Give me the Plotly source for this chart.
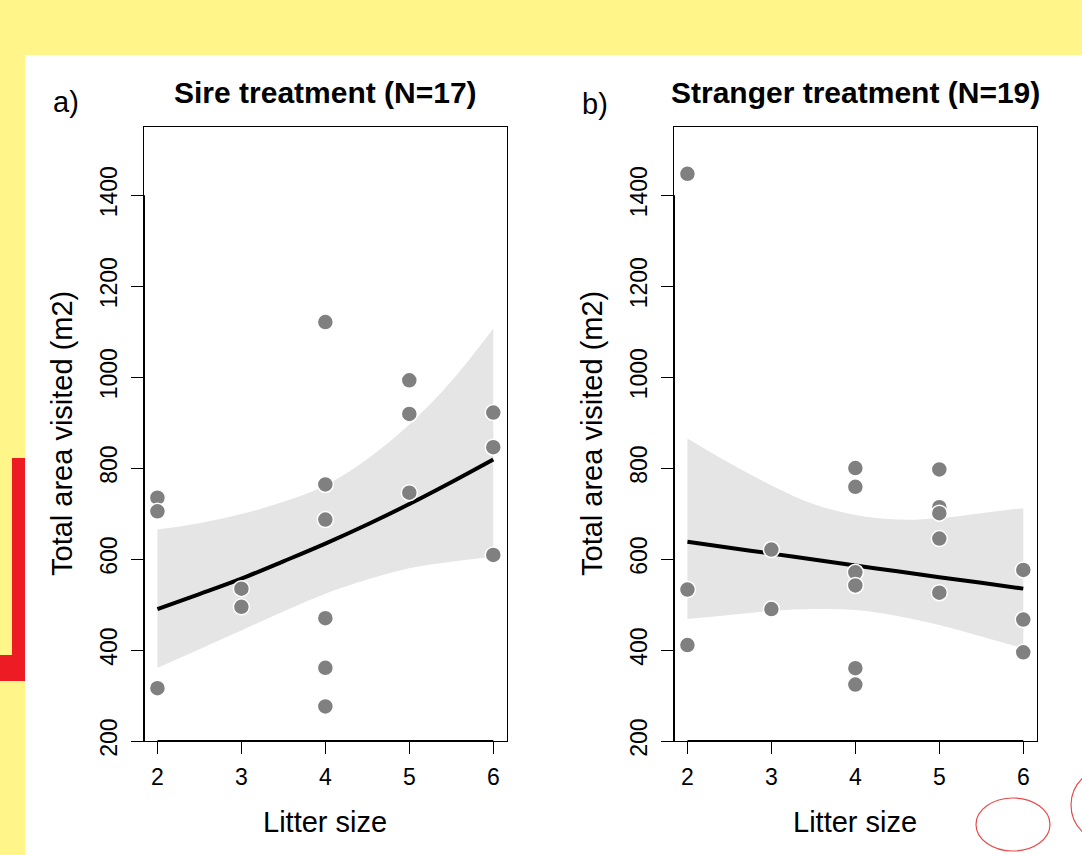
import plotly.graph_objects as go

# ---------------- data ----------------
litter_ticks = [2, 3, 4, 5, 6]
area_ticks = [200, 400, 600, 800, 1000, 1200, 1400]

sire_x = [2, 2, 2, 3, 3, 4, 4, 4, 4, 4, 4, 5, 5, 5, 6, 6, 6]
sire_y = [735, 705, 316, 535, 495, 1121, 764, 687, 470, 361, 276, 993, 919, 746, 922, 846, 609]

stranger_x = [2, 2, 2, 3, 3, 4, 4, 4, 4, 4, 4, 5, 5, 5, 5, 5, 6, 6, 6]
stranger_y = [1447, 533, 411, 621, 490, 800, 759, 571, 542, 360, 324, 797, 714, 701, 645, 526, 576, 467, 395]

fit_x = [2, 2.5, 3, 3.5, 4, 4.5, 5, 5.5, 6]
sire_fit = [490, 523, 557, 595, 634, 676, 721, 769, 819]
sire_upper = [665, 679, 699, 726, 762, 820, 896, 991, 1107]
sire_lower = [361, 402, 443, 485, 524, 555, 580, 594, 605]

stranger_fit = [638, 625, 612, 599, 586, 573, 560, 548, 535]
stranger_upper = [865, 811, 762, 721, 697, 687, 690, 701, 712]
stranger_lower = [468, 477, 486, 490, 488, 475, 455, 430, 404]

titles = ["Sire treatment (N=17)", "Stranger treatment (N=19)"]
panel_tags = ["a)", "b)"]
x_title = "Litter size"
y_title = "Total area visited (m2)"

# ---------------- layout helpers ----------------
W = 1082
H_REF = 855          # reference picture height (layout numbers below are in its pixels)
H = 871              # figure height (the capture squeezes the page height by ~855/871)
FONT = "Liberation Sans, Arial, Helvetica, sans-serif"


def px(x):
    return x / W


def py(y):
    return 1 - y / H_REF


panels = [
    dict(x0=144, x1=506.7, xs=sire_x, ys=sire_y, fit=sire_fit, up=sire_upper, lo=sire_lower),
    dict(x0=674, x1=1036.7, xs=stranger_x, ys=stranger_y, fit=stranger_fit, up=stranger_upper, lo=stranger_lower),
]
top, bottom = 127, 741

fig = go.Figure()

for i, p in enumerate(panels):
    xa = "x" if i == 0 else "x2"
    ya = "y" if i == 0 else "y2"
    # confidence band
    fig.add_trace(go.Scatter(x=fit_x, y=p["up"], mode="lines", line=dict(width=0, shape="spline"),
                             hoverinfo="skip", showlegend=False, xaxis=xa, yaxis=ya))
    fig.add_trace(go.Scatter(x=fit_x, y=p["lo"], mode="lines", line=dict(width=0, shape="spline"),
                             fill="tonexty", fillcolor="#E5E5E5",
                             hoverinfo="skip", showlegend=False, xaxis=xa, yaxis=ya))
    # fitted line
    fig.add_trace(go.Scatter(x=fit_x, y=p["fit"], mode="lines",
                             line=dict(color="black", width=4, shape="spline"),
                             showlegend=False, xaxis=xa, yaxis=ya))
    # observations
    fig.add_trace(go.Scatter(x=p["xs"], y=p["ys"], mode="markers",
                             marker=dict(size=16, color="#808080", line=dict(color="white", width=1.5)),
                             showlegend=False, xaxis=xa, yaxis=ya))

axis_common = dict(showgrid=False, zeroline=False, showline=True, mirror=True, linecolor="black",
                   linewidth=1, ticks="outside", ticklen=12, tickcolor="black", tickwidth=1,
                   tickfont=dict(family=FONT, size=23, color="black"))

layout = dict(
    width=W, height=H, margin=dict(l=0, r=0, t=0, b=0),
    paper_bgcolor="white", plot_bgcolor="white", showlegend=False,
)
for i, p in enumerate(panels):
    sx = "" if i == 0 else "2"
    layout["xaxis" + sx] = dict(axis_common, domain=[px(p["x0"]), px(p["x1"])], range=[1.84, 6.16],
                                tickvals=litter_ticks, anchor="y" + sx, ticklabelstandoff=3)
    layout["yaxis" + sx] = dict(axis_common, domain=[py(bottom), py(top)], range=[200, 1550],
                                tickvals=area_ticks, tickangle=-90, anchor="x" + sx,
                                ticklabelstandoff=5)
fig.update_layout(**layout)

# background decoration
shapes = [
    dict(type="rect", xref="paper", yref="paper", x0=0, x1=1, y0=py(55), y1=1,
         fillcolor="#FFF589", line=dict(width=0), layer="below"),
    dict(type="rect", xref="paper", yref="paper", x0=0, x1=px(25), y0=0, y1=1,
         fillcolor="#FFF589", line=dict(width=0), layer="below"),
    dict(type="rect", xref="paper", yref="paper", x0=px(12), x1=px(25), y0=py(681), y1=py(458),
         fillcolor="#ED1C24", line=dict(width=0), layer="below"),
    dict(type="rect", xref="paper", yref="paper", x0=0, x1=px(25), y0=py(681), y1=py(655),
         fillcolor="#ED1C24", line=dict(width=0), layer="below"),
    dict(type="circle", xref="paper", yref="paper", x0=px(976), x1=px(1050), y0=py(851), y1=py(798),
         line=dict(color="#E84A4A", width=1.2)),
    dict(type="circle", xref="paper", yref="paper", x0=px(1071), x1=px(1149), y0=py(843), y1=py(767),
         line=dict(color="#E84A4A", width=1.2)),
]
# heavier axis segments (first to last tick), as drawn by R's axis()
for i in range(2):
    sx = "" if i == 0 else "2"
    shapes.append(dict(type="line", xref="x" + sx, yref="y" + sx + " domain",
                       x0=litter_ticks[0], x1=litter_ticks[-1], y0=0, y1=0,
                       line=dict(color="black", width=2)))
    shapes.append(dict(type="line", xref="x" + sx + " domain", yref="y" + sx,
                       x0=0, x1=0, y0=area_ticks[0], y1=area_ticks[-1],
                       line=dict(color="black", width=2)))
fig.update_layout(shapes=shapes)

ann = []
for i, p in enumerate(panels):
    cx = (p["x0"] + p["x1"]) / 2
    ann.append(dict(text="<b>" + titles[i] + "</b>", x=px(cx), y=py(92), xref="paper", yref="paper",
                    showarrow=False, xanchor="center", yanchor="middle",
                    font=dict(family=FONT, size=30, color="black")))
    ann.append(dict(text=x_title, x=px(cx), y=py(822), xref="paper", yref="paper",
                    showarrow=False, xanchor="center", yanchor="middle",
                    font=dict(family=FONT, size=29, color="black")))
    ann.append(dict(text=y_title, x=px(p["x0"] - 82), y=py((top + bottom) / 2), xref="paper", yref="paper",
                    showarrow=False, xanchor="center", yanchor="middle", textangle=-90,
                    font=dict(family=FONT, size=29, color="black")))
ann.append(dict(text=panel_tags[0], x=px(66), y=py(102), xref="paper", yref="paper", showarrow=False,
                xanchor="center", yanchor="middle", font=dict(family=FONT, size=29, color="black")))
ann.append(dict(text=panel_tags[1], x=px(595), y=py(104), xref="paper", yref="paper", showarrow=False,
                xanchor="center", yanchor="middle", font=dict(family=FONT, size=29, color="black")))
fig.update_layout(annotations=ann)

post = (
    "document.documentElement.style.margin='0';document.documentElement.style.padding='0';"
    "document.body.style.margin='0';document.body.style.padding='0';"
    "document.documentElement.style.overflow='hidden';document.body.style.overflow='hidden';"
    "var gd=document.getElementById('{plot_id}');"
    "gd.style.position='absolute';gd.style.left='0px';gd.style.top='0px';"
)
fig.write_html("out.html", config={"displayModeBar": False}, post_script=post)
